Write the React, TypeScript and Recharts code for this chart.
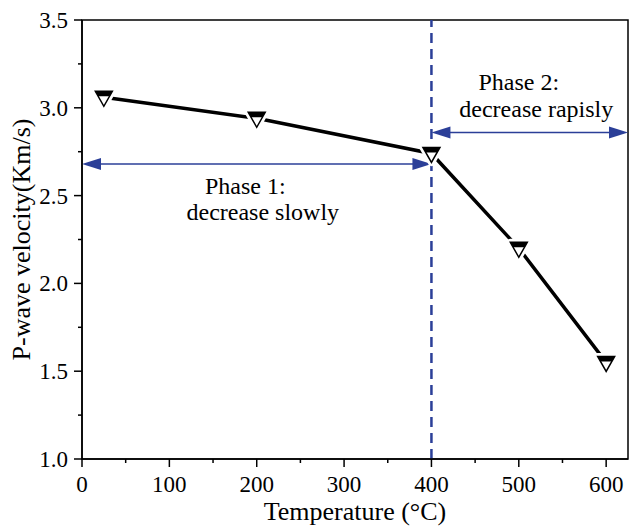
import { LineChart, Line, XAxis, YAxis, ReferenceLine, ReferenceArea, ReferenceDot } from 'recharts'

const temps = [25, 200, 400, 500, 600]
const velocity = [3.06, 2.94, 2.74, 2.2, 1.55]

const xTicks = [0, 50, 100, 150, 200, 250, 300, 350, 400, 450, 500, 550, 600]
const yTicks = [1.0, 1.25, 1.5, 1.75, 2.0, 2.25, 2.5, 2.75, 3.0, 3.25, 3.5]

const phaseBoundary = 400
const phase1Arrow = { from: 0, to: 400, y: 2.68 }
const phase2Arrow = { from: 400, to: 625, y: 2.86 }

const notes = [
  { x: 187, y: 2.51, text: 'Phase 1:' },
  { x: 207, y: 2.36, text: 'decrease slowly' },
  { x: 500, y: 3.1, text: 'Phase 2:' },
  { x: 520, y: 2.95, text: 'decrease rapisly' },
]

const data = temps.map((t, i) => ({ t, v: velocity[i] }))

const BLUE = '#2b3f98'
const FONT = '"Liberation Serif", "Times New Roman", serif'
const txt = { fontFamily: FONT }

const XTick = (props: any) => {
  const { x, y, payload } = props
  const major = payload.value % 100 === 0
  return (
    <g>
      <line x1={x} x2={x} y1={y} y2={y + (major ? 8 : 4)} stroke='#000' strokeWidth={1.5} />
      {major && (
        <text x={x} y={y + 33} textAnchor='middle' fontSize={23} style={txt} fill='#000'>
          {payload.value}
        </text>
      )}
    </g>
  )
}

const YTick = (props: any) => {
  const { x, y, payload } = props
  const major = Math.abs((payload.value * 2) % 1) < 1e-6
  return (
    <g>
      <line x1={x - (major ? 8 : 4)} x2={x} y1={y} y2={y} stroke='#000' strokeWidth={1.5} />
      {major && (
        <text x={x - 14} y={y + 8} textAnchor='end' fontSize={23} style={txt} fill='#000'>
          {payload.value.toFixed(1)}
        </text>
      )}
    </g>
  )
}

const Marker = (props: any) => {
  const { cx, cy, index } = props
  if (cx == null || cy == null) return <g key={index} />
  const hw = 8.5
  const top = cy - 6
  const bot = cy + 9
  const band = cy - 1
  const bw = hw * ((bot - band) / (bot - top))
  const tri = `${cx - hw},${top} ${cx + hw},${top} ${cx},${bot}`
  return (
    <g key={index}>
      <polygon points={tri} fill='#fff' stroke='#fff' strokeWidth={7} strokeLinejoin='round' />
      <polygon points={tri} fill='#fff' stroke='#000' strokeWidth={1.5} />
      <polygon points={`${cx - hw},${top} ${cx + hw},${top} ${cx + bw},${band} ${cx - bw},${band}`} fill='#000' />
    </g>
  )
}

const Arrow = (props: any) => {
  const { x1, y1, x2, y2 } = props
  const len = 19
  const hw = 6
  return (
    <g>
      <line x1={x1 + len - 2} x2={x2 - len + 2} y1={y1} y2={y2} stroke={BLUE} strokeWidth={1.5} />
      <polygon points={`${x1},${y1} ${x1 + len},${y1 - hw} ${x1 + len},${y1 + hw}`} fill={BLUE} />
      <polygon points={`${x2},${y2} ${x2 - len},${y2 - hw} ${x2 - len},${y2 + hw}`} fill={BLUE} />
    </g>
  )
}

const NoteLabel = (text: string) => (props: any) => {
  const { viewBox } = props
  const cx = viewBox.cx ?? viewBox.x
  const cy = viewBox.cy ?? viewBox.y
  return (
    <text x={cx} y={cy} textAnchor='middle' fontSize={24} style={txt} fill='#000'>
      {text}
    </text>
  )
}

export default function App() {
  return (
    <div style={{ position: 'absolute', left: 0, top: 0, background: '#fff' }}>
      <LineChart width={629} height={528} data={data} margin={{ top: 20, right: 1, left: 0, bottom: 0 }}>
        <ReferenceArea x1={0} x2={625} y1={1} y2={3.5} fill='none' stroke='#000' strokeWidth={1.5} />
        <XAxis
          dataKey='t'
          type='number'
          domain={[0, 625]}
          ticks={xTicks}
          interval={0}
          height={69}
          tickSize={0}
          tickMargin={0}
          tickLine={false}
          axisLine={{ stroke: '#000', strokeWidth: 1.5 }}
          tick={XTick}
          label={{
            content: (p: any) => (
              <text
                x={p.viewBox.x + p.viewBox.width / 2}
                y={p.viewBox.y + 61}
                textAnchor='middle'
                fontSize={26}
                style={txt}
                fill='#000'
              >
                Temperature (°C)
              </text>
            ),
          }}
        />
        <YAxis
          type='number'
          domain={[1, 3.5]}
          ticks={yTicks}
          interval={0}
          width={82}
          tickSize={0}
          tickMargin={0}
          tickLine={false}
          axisLine={{ stroke: '#000', strokeWidth: 1.5 }}
          tick={YTick}
          label={{
            content: (p: any) => {
              const cy = p.viewBox.y + p.viewBox.height / 2
              return (
                <text
                  x={30}
                  y={cy}
                  transform={`rotate(-90, 30, ${cy})`}
                  textAnchor='middle'
                  fontSize={26}
                  style={txt}
                  fill='#000'
                >
                  P-wave velocity(Km/s)
                </text>
              )
            },
          }}
        />
        <ReferenceLine x={phaseBoundary} stroke={BLUE} strokeWidth={2.5} strokeDasharray='10 6' />
        <ReferenceLine
          segment={[{ x: phase1Arrow.from, y: phase1Arrow.y }, { x: phase1Arrow.to, y: phase1Arrow.y }]}
          shape={Arrow}
        />
        <ReferenceLine
          segment={[{ x: phase2Arrow.from, y: phase2Arrow.y }, { x: phase2Arrow.to, y: phase2Arrow.y }]}
          shape={Arrow}
        />
        {notes.map((n) => (
          <ReferenceDot key={n.text} x={n.x} y={n.y} r={0} fill='none' stroke='none' label={{ content: NoteLabel(n.text) }} />
        ))}
        <Line
          dataKey='v'
          stroke='#000'
          strokeWidth={3.5}
          dot={Marker}
          activeDot={false}
          isAnimationActive={false}
        />
      </LineChart>
    </div>
  )
}
